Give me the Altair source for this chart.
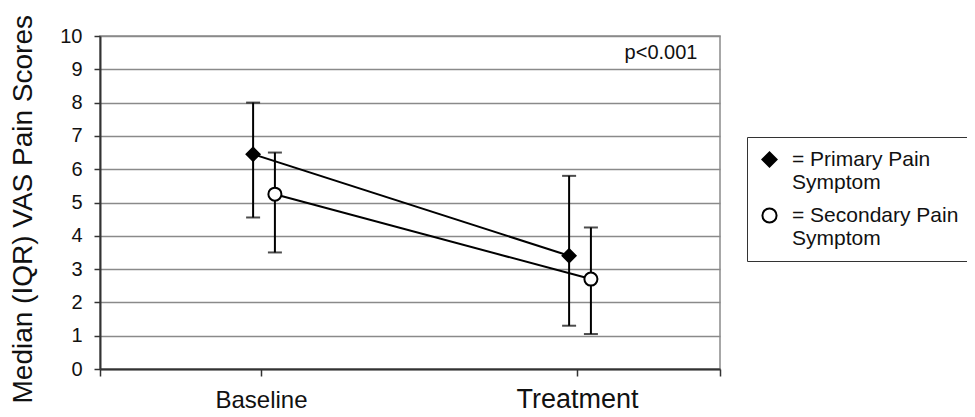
import altair as alt
import pandas as pd

categories = ["Baseline", "Treatment"]
series = ["Primary", "Secondary"]
primary_median = [6.45, 3.4]
primary_q1 = [4.55, 1.3]
primary_q3 = [8.0, 5.8]
secondary_median = [5.25, 2.7]
secondary_q1 = [3.5, 1.05]
secondary_q3 = [6.5, 4.25]
legend_labels = {"Primary": ["= Primary Pain", "Symptom"],
                 "Secondary": ["= Secondary Pain", "Symptom"]}
p_text = "p<0.001"

# horizontal nudge of each series around its category (style)
series_offset = {"Primary": -0.025, "Secondary": 0.044}

rows = []
for s, med, lo, hi in [("Primary", primary_median, primary_q1, primary_q3),
                       ("Secondary", secondary_median, secondary_q1, secondary_q3)]:
    for i, c in enumerate(categories):
        rows.append({"category": c, "series": s, "median": med[i], "q1": lo[i], "q3": hi[i],
                     "pos": i + series_offset[s]})
df = pd.DataFrame(rows)

xmin, xmax = -0.5095, 1.4525
FONT = "Liberation Sans"
GRID = "#8a8a8a"

x_axis = alt.Axis(values=[xmin, 0, 1, xmax],
                  labelExpr="datum.value == 0 ? 'Baseline' : (datum.value == 1 ? 'Treatment' : '')",
                  labelFontSize={"expr": "datum.value == 0 ? 24 : 27"},
                  labelBaseline="alphabetic", labelPadding=31, tickSize=7,
                  tickColor="#333333", tickWidth=1.5,
                  domainColor="#333333", domainWidth=2,
                  grid=False, title=None, labelColor="#111111")
x_scale = alt.Scale(domain=[xmin, xmax], nice=False, zero=False)
y_scale = alt.Scale(domain=[0, 10], nice=False)
y_axis = alt.Axis(values=list(range(11)), title="Median (IQR) VAS Pain Scores",
                  titleFontSize=28, titleFontWeight="normal", titleColor="#111111",
                  titleAngle=270, titleAlign="left", titleBaseline="alphabetic",
                  titleX=-69, titleY=367,
                  labelFontSize=20, labelPadding=12, labelColor="#111111",
                  labelOverlap=False,
                  tickSize=6, tickColor="#333333", tickWidth=1.5,
                  domainColor="#333333", domainWidth=2,
                  gridColor=GRID, gridWidth=1.5)


def X():
    return alt.X("pos:Q", scale=x_scale, axis=x_axis)


def Y(field):
    return alt.Y(field, scale=y_scale, axis=y_axis)


base = alt.Chart(df)

lines = base.mark_line(color="black", strokeWidth=2).encode(
    x=X(), y=Y("median:Q"), detail="series:N")
bars = base.mark_rule(color="black", strokeWidth=2).encode(
    x=X(), y=Y("q1:Q"), y2="q3:Q")
cap_lo = base.mark_tick(orient="horizontal", size=14, thickness=2, color="black").encode(
    x=X(), y=Y("q1:Q"))
cap_hi = base.mark_tick(orient="horizontal", size=14, thickness=2, color="black").encode(
    x=X(), y=Y("q3:Q"))

label_expr = ("datum.label == 'Primary' ? " + str(legend_labels["Primary"]) +
              " : " + str(legend_labels["Secondary"]))
leg = alt.Legend(title=None, orient="none", legendX=647, legendY=101,
                 labelExpr=label_expr)
points = base.mark_point(filled=True, size=170, opacity=1, strokeWidth=2).encode(
    x=X(), y=Y("median:Q"),
    shape=alt.Shape("series:N", scale=alt.Scale(domain=series, range=["diamond", "circle"]), legend=leg),
    fill=alt.Fill("series:N", scale=alt.Scale(domain=series, range=["black", "white"]), legend=leg),
    stroke=alt.Stroke("series:N", scale=alt.Scale(domain=series, range=["black", "black"]), legend=leg),
)

ptext = alt.Chart(pd.DataFrame({"t": [p_text]})).mark_text(
    fontSize=20, font=FONT, color="#111111", align="center", baseline="middle").encode(
    text="t:N", x=alt.value(561), y=alt.value(17))

chart = alt.layer(lines, bars, cap_lo, cap_hi, points, ptext).properties(
    width=620, height=333,
    autosize="none",
    padding={"left": 92, "top": 28, "right": 247, "bottom": 44},
).configure(font=FONT).configure_view(
    stroke=GRID, strokeWidth=1.5
).configure_legend(
    strokeColor="#333333", padding=12, labelFontSize=21, labelLimit=300,
    labelOffset=12, symbolSize=200, symbolStrokeWidth=2,
    rowPadding=11, labelColor="#111111"
)

chart.save("out.html", embed_options={"renderer": "svg", "actions": False})
